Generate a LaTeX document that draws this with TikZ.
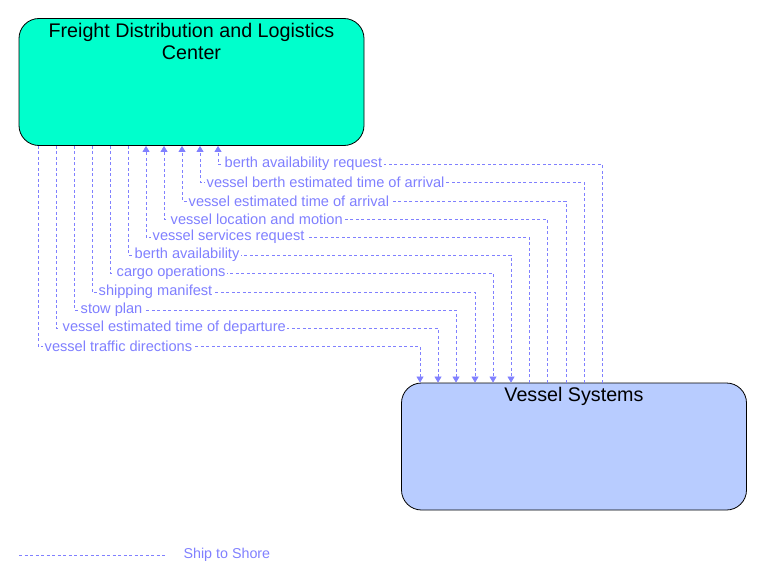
\documentclass[tikz,border=0pt]{standalone}
\usepackage{fontspec}
\setmainfont{Liberation Sans}
\usepackage{tikz}
\usetikzlibrary{arrows.meta,positioning}
\definecolor{flowblue}{RGB}{128,128,255}
\definecolor{centergreen}{RGB}{0,255,204}
\definecolor{vesselblue}{RGB}{184,204,255}

\begin{document}
\begin{tikzpicture}[x=1pt,y=-1pt,
    box/.style={draw=black, line width=0.8pt, rounded corners=20pt, minimum width=345pt, minimum height=127pt, inner sep=0pt},
    title/.style={anchor=north, align=center, font=\fontsize{19.7}{22}\selectfont, inner sep=4.5pt},
    flow/.style={flowblue, line width=0.7pt, dash pattern=on 3pt off 2.5pt},
    tip/.style={-{Triangle[width=7pt,length=6pt]}},
    flowlabel/.style={anchor=west, fill=white, text=flowblue, inner xsep=1.5pt, inner ysep=0.5pt, font=\fontsize{14.6}{16}\selectfont}]
    % Page frame
    \useasboundingbox (0,0) rectangle (763,583);

    % The two elements
    \node[box, fill=centergreen, label={[title]north:Freight Distribution and Logistics\\Center}] (freight) at (191.5,82) {};
    \node[box, fill=vesselblue, label={[title]north:Vessel Systems}] (vessel) at (574,446.5) {};

    % Flows from Vessel Systems up to the center
    \foreach \fx/\vx/\ly/\txt in {218/602/164/berth availability request,
                                   200/584/182/vessel berth estimated time of arrival,
                                   182/566/201/vessel estimated time of arrival,
                                   164/547/219/vessel location and motion,
                                   146/529/237/vessel services request} {
        \draw[flow, tip] (vessel.north -| \vx,0) |- (\fx,\ly) -- (freight.south -| \fx,0);
        \node[flowlabel] (lbl\ly) at (\fx+5,\ly) {\txt};
    }

    % Flows from the center down to Vessel Systems
    \foreach \fx/\vx/\ly/\txt in {128/511/255/berth availability,
                                   110/493/273/cargo operations,
                                   92/475/292/shipping manifest,
                                   74/456/310/stow plan,
                                   56/438/328/vessel estimated time of departure,
                                   38/420/346/vessel traffic directions} {
        \draw[flow, tip] (freight.south -| \fx,0) |- (\vx,\ly) -- (vessel.north -| \vx,0);
        \node[flowlabel] (lbl\ly) at (\fx+5,\ly) {\txt};
    }

    % Legend
    \coordinate (legstart) at (19,555);
    \coordinate (legend) at (165,555);
    \draw[flow] (legstart) -- (legend);
    \node[text=flowblue, anchor=west, font=\fontsize{14.3}{16}\selectfont] (legtext) at (180,555) {Ship to Shore};

\end{tikzpicture}
\end{document}
